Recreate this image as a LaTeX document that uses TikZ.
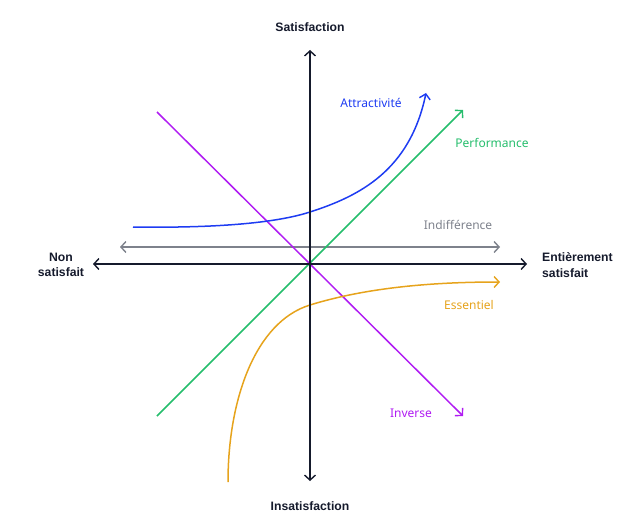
\documentclass[tikz,border=0pt]{standalone}
\usepackage{fontspec}
\setmainfont{Noto Sans}
\newfontfamily\axfont{Liberation Sans}
\usetikzlibrary{arrows.meta}
\definecolor{axisc}{HTML}{151A2C}
\definecolor{bluec}{HTML}{1E3CF2}
\definecolor{greenc}{HTML}{25BD6C}
\definecolor{grayc}{HTML}{7E828C}
\definecolor{orangec}{HTML}{E6A31C}
\definecolor{purplec}{HTML}{B01CF2}
\tikzset{
  tipend/.style={-{Straight Barb[length=5pt,width=11pt,line width=1.4pt]}},
  tipboth/.style={{Straight Barb[length=5pt,width=11pt,line width=1.4pt]}-{Straight Barb[length=5pt,width=11pt,line width=1.4pt]}},
  axisline/.style={draw=axisc,line width=1.5pt,tipend},
  curve/.style={line width=1.5pt,tipend},
  axislabel/.style={font=\axfont\fontsize{12.2}{15.5}\selectfont\bfseries,text=axisc,inner sep=0pt},
  clabel/.style={font=\fontsize{12}{14}\selectfont,inner sep=0pt},
}
\begin{document}
\begin{tikzpicture}[x=1pt,y=-1pt]
\useasboundingbox (0,0) rectangle (621,532);
% axes
\coordinate (O) at (310,264);
\coordinate (top) at (310,50);
\coordinate (bot) at (310,481);
\coordinate (left) at (93,264);
\coordinate (right) at (527,264);
% indifference
\coordinate (ileft) at (120,247);
\coordinate (iright) at (500,247);
\draw[line width=1.5pt,tipboth,draw=grayc] (ileft) -- (iright);
% performance
\coordinate (pstart) at (157,416);
\coordinate (pend) at (463,110);
\draw[curve,draw=greenc] (pstart) -- (pend);
% inverse
\coordinate (vstart) at (157,112);
\coordinate (vend) at (463,416);
\draw[curve,draw=purplec] (vstart) -- (vend);
% attractivite
\coordinate (astart) at (133,227);
\coordinate (amid) at (310,212);
\coordinate (aend) at (426,93);
\draw[curve,draw=bluec] (astart) .. controls (200,228) and (270,225) .. (amid)
  .. controls (360,196) and (410,170) .. (aend);
% essentiel
\coordinate (estart) at (228,482);
\coordinate (emid) at (310,305);
\coordinate (eend) at (500,282);
\draw[curve,draw=orangec] (estart) .. controls (228,400) and (255,322) .. (emid)
  .. controls (365,288) and (430,282) .. (eend);
% axes on top
\draw[axisline] (O) -- (top);
\draw[axisline] (O) -- (bot);
\draw[axisline] (O) -- (left);
\draw[axisline] (O) -- (right);
% labels
\node[axislabel] (ls) at (310,27) {Satisfaction};
\node[axislabel] (li) at (310,506) {Insatisfaction};
\node[axislabel,align=center] (ln) at (61,265) {Non\\satisfait};
\node[axislabel,align=left,anchor=west] (le) at (542,265) {Entièrement\\satisfait};
\node[clabel,text=bluec] (la) at (371,103) {Attractivité};
\node[clabel,text=greenc] (lp) at (492,143) {Performance};
\node[clabel,text=grayc] (lind) at (458,225) {Indifférence};
\node[clabel,text=orangec] (les) at (469,305) {Essentiel};
\node[clabel,text=purplec] (linv) at (411,413) {Inverse};
\end{tikzpicture}
\end{document}
